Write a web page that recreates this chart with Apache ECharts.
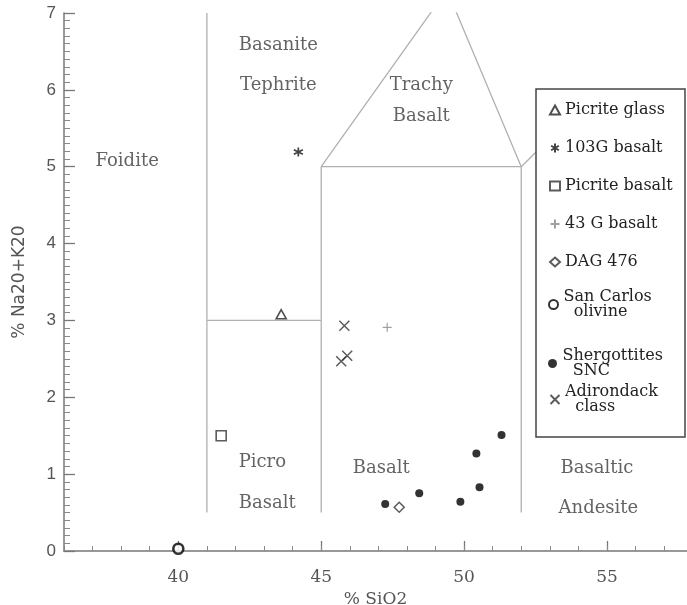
<!DOCTYPE html>
<html>
<head>
    <meta charset="utf-8">
    <title>TAS SiO2 vs Na2O+K2O</title>
    <script src="https://cdn.jsdelivr.net/npm/echarts@6/dist/echarts.min.js"></script>
    <style>
        html, body { margin: 0; padding: 0; background: #fff; }
        #main { width: 687px; height: 605px; }
    </style>
</head>
<body>
<div id="main"></div>
<script>
    // axis range and labelled ticks
    var xMin = 36, xMax = 57.8;
    var yMin = 0, yMax = 7;
    var xMajorTicks = [40, 45, 50, 55];

    // samples [SiO2, Na2O+K2O]
    var picriteGlass = [[43.6, 3.08]];
    var basalt103G = [[44.2, 5.19]];
    var picriteBasalt = [[41.5, 1.5]];
    var basalt43G = [[47.31, 2.91]];
    var dag476 = [[47.73, 0.57]];
    var sanCarlos = [[40.0, 0.03]];
    var shergottites = [[47.24, 0.61], [48.43, 0.75], [49.87, 0.64], [50.54, 0.83], [50.43, 1.27], [51.31, 1.51]];
    var adirondack = [[45.81, 2.93], [45.91, 2.54], [45.70, 2.47]];

    // field boundaries of the diagram
    var fieldLines = [
        [[41, 0.5], [41, 7]],
        [[41, 3], [45, 3]],
        [[45, 0.5], [45, 5], [52, 5], [52, 0.5]],
        [[45, 5], [49.4, 7.3], [52, 5]],
        [[52, 5], [53, 5.37]]
    ];

    // field names
    var fieldNames = ['Foidite', 'Basanite', 'Tephrite', 'Trachy', 'Basalt', 'Picro', 'Basalt', 'Basalt', 'Basaltic', 'Andesite'];
    var fieldX = [38.21, 43.5, 43.5, 48.5, 48.5, 42.94, 43.11, 47.1, 54.65, 54.7];
    var fieldY = [5.07, 6.58, 6.06, 6.06, 5.66, 1.16, 0.62, 1.07, 1.07, 0.55];

    var serif = 'DejaVu Serif';
    var ink = '#222';

    var myChart = echarts.init(document.getElementById('main'), null, {renderer: 'canvas'});

    var series = [];
    // boundaries
    fieldLines.forEach(function (pts) {
        series.push({
            type: 'line',
            data: pts,
            symbol: 'none',
            silent: true,
            clip: true,
            lineStyle: {color: '#b0b0b0', width: 1.3},
            z: 1
        });
    });
    // field labels
    series.push({
        type: 'scatter',
        silent: true,
        symbolSize: 1,
        itemStyle: {color: 'transparent'},
        label: {
            show: true,
            position: 'inside',
            formatter: '{b}',
            fontFamily: serif,
            fontSize: 18,
            color: '#3c3c3c'
        },
        data: fieldNames.map(function (n, i) {
            return {name: n, value: [fieldX[i], fieldY[i]]};
        }),
        z: 1
    });

    function strokeStyle(c, w) {
        return {color: 'none', borderColor: c, borderWidth: w};
    }
    series.push(
        {name: 'Picrite glass', type: 'scatter', symbol: 'triangle', symbolSize: [10, 9],
            itemStyle: {color: '#fff', borderColor: ink, borderWidth: 1.6}, data: picriteGlass},
        {name: '103G basalt', type: 'scatter', symbol: 'path://M5,0L5,10M0.7,2.5L9.3,7.5M0.7,7.5L9.3,2.5', symbolSize: 9,
            itemStyle: strokeStyle('#111', 1.7), data: basalt103G},
        {name: 'Picrite basalt', type: 'scatter', symbol: 'rect', symbolSize: 10,
            itemStyle: {color: '#fff', borderColor: '#333', borderWidth: 1.6}, data: picriteBasalt},
        {name: '43 G basalt', type: 'scatter', symbol: 'path://M5,0L5,10M0,5L10,5', symbolSize: 9,
            itemStyle: strokeStyle('#888', 1.2), data: basalt43G},
        {name: 'DAG 476', type: 'scatter', symbol: 'diamond', symbolSize: 10,
            itemStyle: {color: '#fff', borderColor: '#333', borderWidth: 1.5}, data: dag476},
        {name: 'San Carlos olivine', type: 'scatter', symbol: 'circle', symbolSize: 10,
            itemStyle: {color: '#fff', borderColor: '#000', borderWidth: 2.6}, data: sanCarlos},
        {name: 'Shergottites SNC', type: 'scatter', symbol: 'circle', symbolSize: 8,
            itemStyle: {color: '#000'}, data: shergottites},
        {name: 'Adirondack class', type: 'scatter', symbol: 'path://M0,0L10,10M0,10L10,0', symbolSize: 10,
            itemStyle: strokeStyle('#333', 1.5), data: adirondack}
    );

    var legendText = {fontFamily: serif, fontSize: 16, color: '#222', lineHeight: 16};
    function twoLineLegend(name, label, top, padTop, lh) {
        return {
            data: [name],
            orient: 'vertical',
            left: 543,
            top: top,
            itemWidth: 10,
            itemHeight: 9,
            selectedMode: false,
            formatter: function () { return label; },
            textStyle: Object.assign({}, legendText, {lineHeight: lh, padding: [padTop, 0, 0, 0]})
        };
    }

    var option = {
        backgroundColor: '#fff',
        animation: false,
        grid: {left: 64, right: 0, top: 13, bottom: 54, containLabel: false, outerBoundsMode: 'none'},
        xAxis: [{
            type: 'value',
            min: xMin,
            max: xMax,
            position: 'bottom',
            name: '% SiO2',
            nameLocation: 'middle',
            nameGap: 36,
            nameTextStyle: {fontFamily: serif, fontSize: 17, color: '#555'},
            axisLine: {show: true, lineStyle: {color: '#777', width: 1.5}},
            axisTick: {show: true, inside: true, length: 10, customValues: xMajorTicks, lineStyle: {color: '#777', width: 1.3}},
            axisLabel: {customValues: xMajorTicks, margin: 18, fontFamily: serif, fontSize: 17, color: '#555'},
            splitLine: {show: false}
        }, {
            type: 'value',
            min: xMin,
            max: xMax,
            interval: 1,
            position: 'bottom',
            axisLine: {show: false},
            axisTick: {show: true, inside: true, length: 5, lineStyle: {color: '#888', width: 1}},
            axisLabel: {show: false},
            splitLine: {show: false}
        }],
        yAxis: {
            type: 'value',
            min: yMin,
            max: yMax,
            interval: 1,
            name: '% Na20+K20',
            nameLocation: 'middle',
            nameRotate: 90,
            nameGap: 36,
            nameTextStyle: {fontFamily: 'DejaVu Sans', fontSize: 17, color: '#555'},
            axisLine: {show: true, lineStyle: {color: '#777', width: 1.5}},
            axisTick: {show: true, inside: true, length: 11, lineStyle: {color: '#777', width: 1.3}},
            minorTick: {show: true, splitNumber: 10, length: 6, lineStyle: {color: '#888', width: 1}},
            axisLabel: {margin: 8, fontFamily: 'Liberation Sans', fontSize: 17, color: '#555'},
            splitLine: {show: false}
        },
        graphic: [{
            type: 'rect',
            z: 3,
            shape: {x: 536, y: 89, width: 149, height: 348},
            style: {fill: '#fff', stroke: '#444', lineWidth: 1.5}
        }],
        legend: [{
            data: ['Picrite glass', '103G basalt', 'Picrite basalt', '43 G basalt', 'DAG 476'],
            orient: 'vertical',
            left: 543,
            top: 97,
            itemWidth: 10,
            itemHeight: 9,
            itemGap: 22,
            selectedMode: false,
            textStyle: legendText
        },
            twoLineLegend('San Carlos olivine', 'San Carlos\n  olivine', 277, 15, 15),
            twoLineLegend('Shergottites SNC', 'Shergottites\n  SNC', 338, 11, 15),
            twoLineLegend('Adirondack class', 'Adirondack\n  class', 374, 11, 15)
        ],
        series: series
    };

    myChart.setOption(option);
</script>
</body>
</html>
